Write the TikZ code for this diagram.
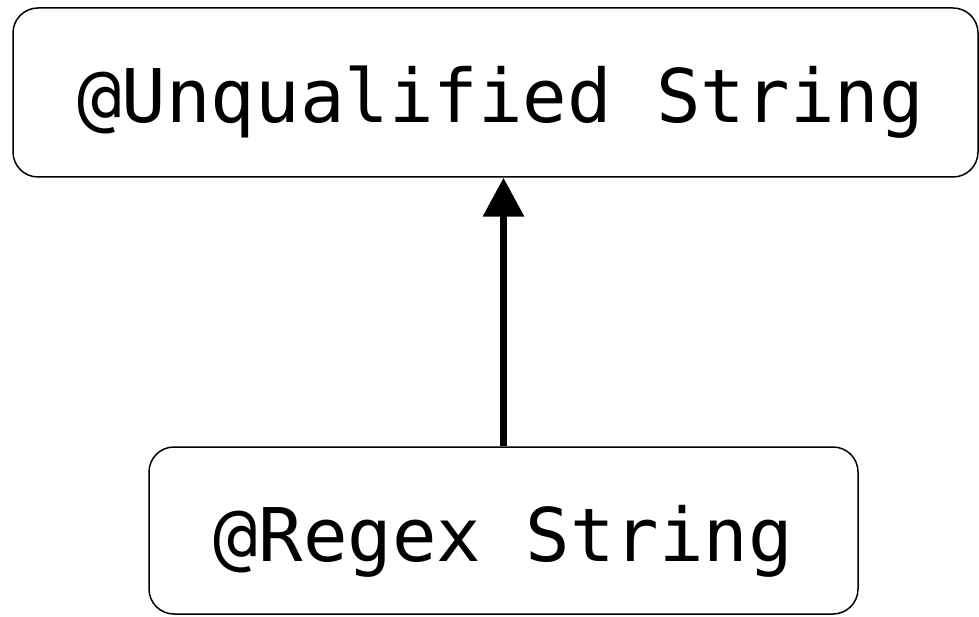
\documentclass[tikz,border=0pt]{standalone}
\usepackage{fontspec}
\setmonofont{DejaVu Sans Mono}
\usetikzlibrary{arrows.meta}

\begin{document}
\begin{tikzpicture}[x=1pt,y=1pt,>={Triangle[width=40pt,length=39pt]},semithick]
          \tikzstyle{anno}=[draw=black,line width=1.5pt,rounded corners=25pt,inner sep=0pt,
                            font=\ttfamily\fontsize{74}{80}\selectfont,text height=61pt,text depth=0pt]
          \useasboundingbox (0,0) rectangle (979,616);
          \node[anno,minimum width=965pt,minimum height=169pt] (Unq) at (495.5,523.5) {\hspace{10pt}@Unqualified String};
          \node[anno,minimum width=709pt,minimum height=167pt] (Rgx) at (503.5,85.5)  {@Regex String};

          \draw[->,line width=7pt] (Rgx.north) -- (Rgx.north |- Unq.south);
        \end{tikzpicture}
\end{document}
